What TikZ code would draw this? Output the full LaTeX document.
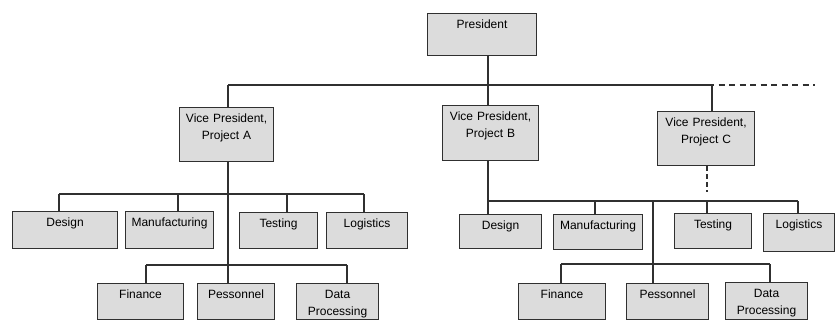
\documentclass[tikz,border=0pt]{standalone}
\usepackage{fontspec}
\setmainfont{Liberation Sans}
\definecolor{boxgray}{HTML}{DCDCDC}
\definecolor{linegray}{HTML}{303030}
\begin{document}
\begin{tikzpicture}[x=1pt, y=-1pt,
  unit/.style={draw=linegray, line width=1.1pt, fill=boxgray, anchor=north west, inner sep=0pt,
    align=center, text height=15pt, font=\fontsize{12}{17}\selectfont},
  link/.style={draw=linegray, line width=1.1pt}]
\useasboundingbox (0,0) rectangle (835,321);

\node [unit, text width=109pt, text depth=27pt] (pres) at (427,13) {President};
\node [unit, text width=94pt, text depth=39pt] (vpA) at (179,107) {Vice President,\\Project A};
\node [unit, text width=96pt, text depth=40pt] (vpB) at (442,105) {Vice President,\\Project\ B};
\node [unit, text width=97pt, text depth=39pt] (vpC) at (657,111) {Vice President,\\Project C};

\node [unit, text width=105pt, text depth=22pt] (dsgA) at (12,211) {Design};
\node [unit, text width=88pt, text depth=22pt] (manA) at (125,211) {Manufacturing};
\node [unit, text width=78pt, text depth=21pt] (tstA) at (239,212) {Testing};
\node [unit, text width=81pt, text depth=21pt] (logA) at (326,212) {Logistics};
\node [unit, text width=86pt, text depth=21pt] (finA) at (97,283) {Finance};
\node [unit, text width=77pt, text depth=21pt] (perA) at (197,283) {Pessonnel};
\node [unit, text width=82pt, text depth=21pt] (datA) at (296,283) {Data\\Processing};

\node [unit, text width=82pt, text depth=19pt] (dsgB) at (459,214) {Design};
\node [unit, text width=89pt, text depth=20pt] (manB) at (553,214) {Manufacturing};
\node [unit, text width=77pt, text depth=20pt] (tstB) at (674,213) {Testing};
\node [unit, text width=71pt, text depth=23pt] (logB) at (763,213) {Logistics};
\node [unit, text width=87pt, text depth=21pt] (finB) at (518,283) {Finance};
\node [unit, text width=82pt, text depth=21pt] (perB) at (626,283) {Pessonnel};
\node [unit, text width=82pt, text depth=22pt] (datB) at (725,282) {Data\\Processing};

\coordinate (top1) at (228,85);
\coordinate (top2) at (488,85);
\coordinate (top3) at (712,85);
\coordinate (top4) at (815,85);
\coordinate (cut) at (708,85);
\draw [link] (top2 |- pres.south) -- (top2);
\draw [link] (top1) -- (cut);
\draw [link, dash pattern=on 6pt off 4.5pt] (cut) -- (top4);
\draw [link] (top1) -- (top1 |- vpA.north);
\draw [link] (top2) -- (top2 |- vpB.north);
\draw [link] (top3) -- (top3 |- vpC.north);

\coordinate (a1) at (59,194);
\coordinate (a2) at (178,194);
\coordinate (a3) at (287,194);
\coordinate (a4) at (364,194);
\coordinate (a5) at (146,265);
\coordinate (a6) at (347,265);
\draw [link] (a1) -- (a4);
\draw [link] (a1) -- (a1 |- dsgA.north);
\draw [link] (a2) -- (a2 |- manA.north);
\draw [link] (a3) -- (a3 |- tstA.north);
\draw [link] (a4) -- (a4 |- logA.north);
\draw [link] (top1 |- vpA.south) -- (top1 |- perA.north);
\draw [link] (a5) -- (a6);
\draw [link] (a5) -- (a5 |- finA.north);
\draw [link] (a6) -- (a6 |- datA.north);

\coordinate (b1) at (488,201);
\coordinate (b2) at (595,201);
\coordinate (b3) at (653,201);
\coordinate (b4) at (707,201);
\coordinate (b5) at (798,201);
\coordinate (b6) at (561,264);
\coordinate (b7) at (770,264);
\draw [link] (b1 |- vpB.south) -- (b1) -- (b5);
\draw [link] (b1) -- (b1 |- dsgB.north);
\draw [link] (b2) -- (b2 |- manB.north);
\draw [link] (b4) -- (b4 |- tstB.north);
\draw [link] (b5) -- (b5 |- logB.north);
\draw [link] (b3) -- (b3 |- perB.north);
\draw [link] (b6) -- (b7);
\draw [link] (b6) -- (b6 |- finB.north);
\draw [link] (b7) -- (b7 |- datB.north);
\draw [link, dash pattern=on 5pt off 3pt] (b4 |- vpC.south) -- (707,192);
\end{tikzpicture}
\end{document}
